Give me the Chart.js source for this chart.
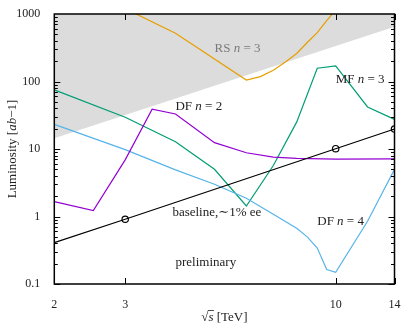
<!DOCTYPE html>
<html>
<head>
<meta charset="utf-8">
<script src="https://cdn.jsdelivr.net/npm/chart.js@4.4.1/dist/chart.umd.min.js"></script>
<style>
  html, body { margin: 0; padding: 0; background: #fff; }
  #wrap { width: 401px; height: 324px; }
</style>
</head>
<body>
<div id="wrap"><canvas id="c" width="401" height="324"></canvas></div>
<script>
// Collision energy (TeV) and required integrated luminosity (ab^-1) per model
const rsEnergy  = [3, 4, 6, 6.5, 7, 7.5, 8, 8.5, 9, 9.5, 10];
const rsLumi    = [1200, 520, 105, 118, 147, 194, 260, 378, 530, 800, 1150];

const mfEnergy  = [2, 3, 4, 5, 6, 7, 8, 9, 10, 12, 14];
const mfLumi    = [75, 29.5, 12.8, 5.0, 1.43, 5.7, 25, 157, 170, 42, 27.5];

const df2Energy = [2, 2.5, 3, 3.5, 4, 5, 6, 7, 8, 10, 14];
const df2Lumi   = [1.66, 1.22, 6.9, 39, 33, 12.4, 8.8, 7.6, 7.25, 7.1, 7.15];

const df4Energy = [2, 3, 4, 5, 6, 7, 8, 8.5, 9, 9.5, 10, 12, 14];
const df4Lumi   = [23.2, 9.8, 4.9, 3.0, 1.86, 1.08, 0.67, 0.5, 0.34, 0.164, 0.149, 0.85, 5.0];

const baseEnergy = [2, 3, 10, 14];
const baseLumi   = [0.41, 0.91, 10.1, 19.8];

// lower edge of the shaded region
const shadeEnergy = [2, 14];
const shadeLumi   = [14.4, 650];

const xTickValues = [2, 3, 10, 14];
const yTickValues = [0.1, 1, 10, 100, 1000];

const toPoints = (xs, ys) => xs.map((x, i) => ({ x, y: ys[i] }));

const SERIF = "'Liberation Serif', 'DejaVu Serif', serif";

// text labels placed in data coordinates (left edge, vertical centre)
const annotations = [
  { x: 5.0,  y: 310,   color: '#7a7a7a', parts: [['RS ', 0], ['n', 1], [' = 3', 0]] },
  { x: 10.0, y: 105,   color: '#222',    parts: [['MF ', 0], ['n', 1], [' = 3', 0]] },
  { x: 4.0,  y: 43,    color: '#222',    parts: [['DF ', 0], ['n', 1], [' = 2', 0]] },
  { x: 3.93, y: 1.13,  color: '#222',    parts: [['baseline,\u223C1% ee', 0]] },
  { x: 9.0,  y: 0.83,  color: '#222',    parts: [['DF ', 0], ['n', 1], [' = 4', 0]] },
  { x: 4.0,  y: 0.205, color: '#222',    parts: [['preliminary', 0]] }
];

function drawRich(ctx, parts, x, y, size, align) {
  const fonts = parts.map(p => (p[1] ? 'italic ' : '') + size + 'px ' + SERIF);
  const widths = parts.map((p, i) => { ctx.font = fonts[i]; return ctx.measureText(p[0]).width; });
  const total = widths.reduce((a, b) => a + b, 0);
  let cx = align === 'center' ? x - total / 2 : x;
  const spans = [];
  parts.forEach((p, i) => {
    ctx.font = fonts[i];
    ctx.fillText(p[0], cx, y);
    spans.push([cx, cx + widths[i]]);
    cx += widths[i];
  });
  return spans;
}

const frameAndTicks = {
  id: 'frameAndTicks',
  afterDatasetsDraw(chart) {
    const { ctx, chartArea: a, scales: { x, y } } = chart;
    ctx.save();
    ctx.strokeStyle = '#000';
    ctx.lineWidth = 1;
    ctx.beginPath();
    for (let e = -1; e < 3; e++) {
      for (let m = 1; m <= 9; m++) {
        const v = m * Math.pow(10, e);
        const py = Math.round(y.getPixelForValue(v)) + 0.5;
        const len = m === 1 ? 6 : 3.5;
        ctx.moveTo(a.left, py);  ctx.lineTo(a.left + len, py);
        ctx.moveTo(a.right, py); ctx.lineTo(a.right - len, py);
      }
    }
    xTickValues.forEach(v => {
      const px = Math.round(x.getPixelForValue(v)) + 0.5;
      ctx.moveTo(px, a.bottom); ctx.lineTo(px, a.bottom - 6);
      ctx.moveTo(px, a.top);    ctx.lineTo(px, a.top + 6);
    });
    ctx.stroke();
    ctx.lineWidth = 1.5;
    ctx.strokeRect(a.left, a.top, a.right - a.left, a.bottom - a.top);
    ctx.restore();
  },
  afterDraw(chart) {
    const { ctx, chartArea: a, scales: { x, y } } = chart;
    ctx.save();
    ctx.textBaseline = 'middle';
    ctx.textAlign = 'left';
    annotations.forEach(t => {
      ctx.fillStyle = t.color;
      drawRich(ctx, t.parts, x.getPixelForValue(t.x), y.getPixelForValue(t.y), 13, 'left');
    });

    // x-axis title
    ctx.fillStyle = '#222';
    ctx.textBaseline = 'alphabetic';
    const xc = (a.left + a.right) / 2;
    const spans = drawRich(ctx, [['\u221A', 0], ['s', 1], [' [TeV]', 0]], xc, 321, 13, 'center');
    ctx.strokeStyle = '#222';
    ctx.lineWidth = 0.8;
    ctx.beginPath();
    ctx.moveTo(spans[0][1] - 0.5, 321 - 10.5);
    ctx.lineTo(spans[1][1] + 0.5, 321 - 10.5);
    ctx.stroke();

    // y-axis title
    ctx.translate(13, (a.top + a.bottom) / 2);
    ctx.rotate(-Math.PI / 2);
    ctx.textBaseline = 'middle';
    drawRich(ctx, [['Luminosity [', 0], ['ab', 1], ['\u22121]', 0]], 0, 0, 13, 'center');
    ctx.restore();
  }
};

const line = (data, color, extra) => Object.assign({
  data, borderColor: color, borderWidth: 1.2, pointRadius: 0,
  tension: 0, fill: false
}, extra || {});

new Chart(document.getElementById('c'), {
  type: 'line',
  data: {
    datasets: [
      line(toPoints(baseEnergy, baseLumi), '#000', {
        pointRadius: [0, 3.2, 3.2, 3.2], pointBorderColor: '#000',
        pointBackgroundColor: 'rgba(0,0,0,0)', pointBorderWidth: 1.2
      }),
      line(toPoints(df2Energy, df2Lumi), '#9400D3'),
      line(toPoints(df4Energy, df4Lumi), '#56B4E9'),
      line(toPoints(mfEnergy, mfLumi), '#009E73'),
      line(toPoints(rsEnergy, rsLumi), '#E69F00'),
      {
        data: toPoints(shadeEnergy, shadeLumi),
        borderWidth: 0, borderColor: 'rgba(0,0,0,0)', pointRadius: 0,
        backgroundColor: '#dcdcdc', fill: 'end'
      }
    ]
  },
  options: {
    responsive: false,
    animation: false,
    devicePixelRatio: 1,
    layout: { padding: { top: 14, right: 6.5, left: 0, bottom: 0 } },
    plugins: { legend: { display: false }, tooltip: { enabled: false } },
    scales: {
      x: {
        type: 'logarithmic', min: 2, max: 14,
        afterBuildTicks: s => { s.ticks = xTickValues.map(v => ({ value: v })); },
        afterFit: s => { s.height = 40; s.paddingLeft = 0; s.paddingRight = 0; },
        ticks: {
          callback: v => String(v), autoSkip: false, maxRotation: 0, padding: 6,
          font: { family: SERIF, size: 12 }, color: '#222'
        },
        grid: { display: false }, border: { display: false }
      },
      y: {
        type: 'logarithmic', min: 0.1, max: 1000,
        afterBuildTicks: s => { s.ticks = yTickValues.map(v => ({ value: v })); },
        afterFit: s => { s.width = 54.3; s.paddingTop = 0; s.paddingBottom = 0; },
        ticks: {
          callback: v => String(v), autoSkip: false, padding: 6,
          font: { family: SERIF, size: 12 }, color: '#222'
        },
        grid: { display: false }, border: { display: false }
      }
    }
  },
  plugins: [frameAndTicks]
});
</script>
</body>
</html>
